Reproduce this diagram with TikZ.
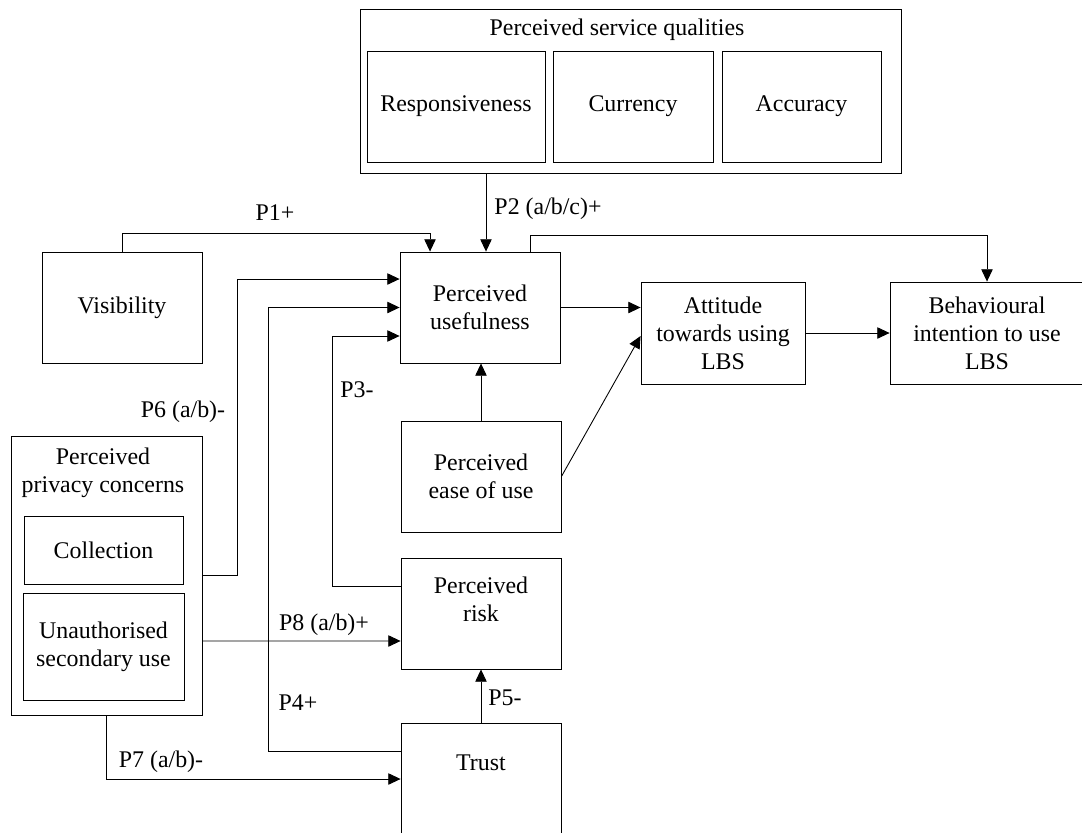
\documentclass[tikz,border=0pt]{standalone}
\usepackage{fontspec}
\setmainfont{Liberation Serif}
\usetikzlibrary{arrows.meta}
\tikzset{
  caja/.style={draw, line width=0.5pt, inner sep=0pt, align=center},
  flecha/.style={line width=0.5pt, -{Triangle[length=7pt,width=6.5pt]}},
  etiq/.style={inner sep=1pt},
}
\begin{document}
\begin{tikzpicture}[x=0.02cm, y=-0.02cm, font=\fontsize{13.6}{16}\selectfont]
  \useasboundingbox (0,0) rectangle (1082,832);
  \clip (0,0) rectangle (1082,832);

  % Calidades del servicio
  \node[caja, minimum width=10.82cm, minimum height=3.28cm] (psq) at (630.5,91) {};
  \node (psqt) at (617,30) {Perceived service qualities};
  \node[caja, minimum width=3.56cm, minimum height=2.22cm] (resp) at (456,106.5) {Responsiveness};
  \node[caja, minimum width=3.2cm, minimum height=2.22cm] (curr) at (633,106.5) {Currency};
  \node[caja, minimum width=3.18cm, minimum height=2.22cm] (accu) at (801.5,106.5) {Accuracy};

  % Cajas del modelo
  \node[caja, minimum width=3.2cm, minimum height=2.22cm] (vis) at (122,307.5) {Visibility};
  \node[caja, minimum width=3.2cm, minimum height=2.22cm] (pu) at (480,307.5) {Perceived\\usefulness};
  \node[caja, minimum width=3.28cm, minimum height=2.04cm] (att) at (723,333) {Attitude\\towards using\\LBS};
  \node[caja, minimum width=3.88cm, minimum height=2.04cm] (bi) at (987,333) {Behavioural\\intention to use\\LBS};
  \node[caja, minimum width=3.2cm, minimum height=2.22cm] (peou) at (481,476.5) {Perceived\\ease of use};
  \node[caja, minimum width=3.2cm, minimum height=2.22cm] (pr) at (481,613.5) {};
  \node (prt) at (481,599) [align=center] {Perceived\\risk};
  \node[caja, minimum width=3.2cm, minimum height=2.24cm] (trust) at (481,779) {};
  \node (trustt) at (481,763) {Trust};

  % Privacidad
  \node[caja, minimum width=3.82cm, minimum height=5.58cm] (ppc) at (106.5,575.5) {};
  \node (ppct) at (103,473) [align=center] {Perceived\\privacy concerns};
  \node[caja, minimum width=3.18cm, minimum height=1.36cm] (coll) at (103.5,550) {Collection};
  \node[caja, minimum width=3.22cm, minimum height=2.14cm] (unauth) at (103.5,646.5) {Unauthorised\\secondary use};

  % Flechas
  \draw[flecha] ([xshift=0.12cm]pu.north |- psq.south) -- ([xshift=0.12cm]pu.north);
  \draw[flecha] (vis.north) -- ++(0,0.36cm) -| ([xshift=-1cm]pu.north);
  \draw[flecha] ([xshift=1cm]pu.north) -- ++(0,0.32cm) -| (bi.north);
  \draw[flecha] (pu.east) -- (pu.east -| att.west);
  \draw[flecha] (att.east) -- (bi.west);
  \draw[flecha] (peou.north) -- (peou.north |- pu.south);
  \draw[flecha] (peou.east) -- ([yshift=-0.06cm]att.west);
  \draw[flecha] (ppc.east) -- ++(0.7cm,0) |- ([yshift=0.57cm]pu.west);
  \draw[flecha] ([yshift=0.56cm]trust.west) -- ++(-2.64cm,0) |- (pu.west);
  \draw[flecha] ([yshift=0.55cm]pr.west) -- ++(-1.36cm,0) |- ([yshift=-0.57cm]pu.west);
  \draw[flecha] ([yshift=-1.31cm]ppc.east) -- ([yshift=-0.55cm]pr.west);
  \draw[flecha] (ppc.south) |- (trust.west);
  \draw[flecha] (trust.north) -- (pr.south);

  % Etiquetas
  \node[etiq] (p1) at (275,213) {P1+};
  \node[etiq] (p2) at (548,209) {P2 (a/b/c)+};
  \node[etiq] (p3) at (357,390) {P3-};
  \node[etiq] (p4) at (298,703) {P4+};
  \node[etiq] (p5) at (505,698) {P5-};
  \node[etiq] (p6) at (183,412) {P6 (a/b)-};
  \node[etiq] (p7) at (161,762) {P7 (a/b)-};
  \node[etiq] (p8) at (324,625) {P8 (a/b)+};
\end{tikzpicture}
\end{document}
